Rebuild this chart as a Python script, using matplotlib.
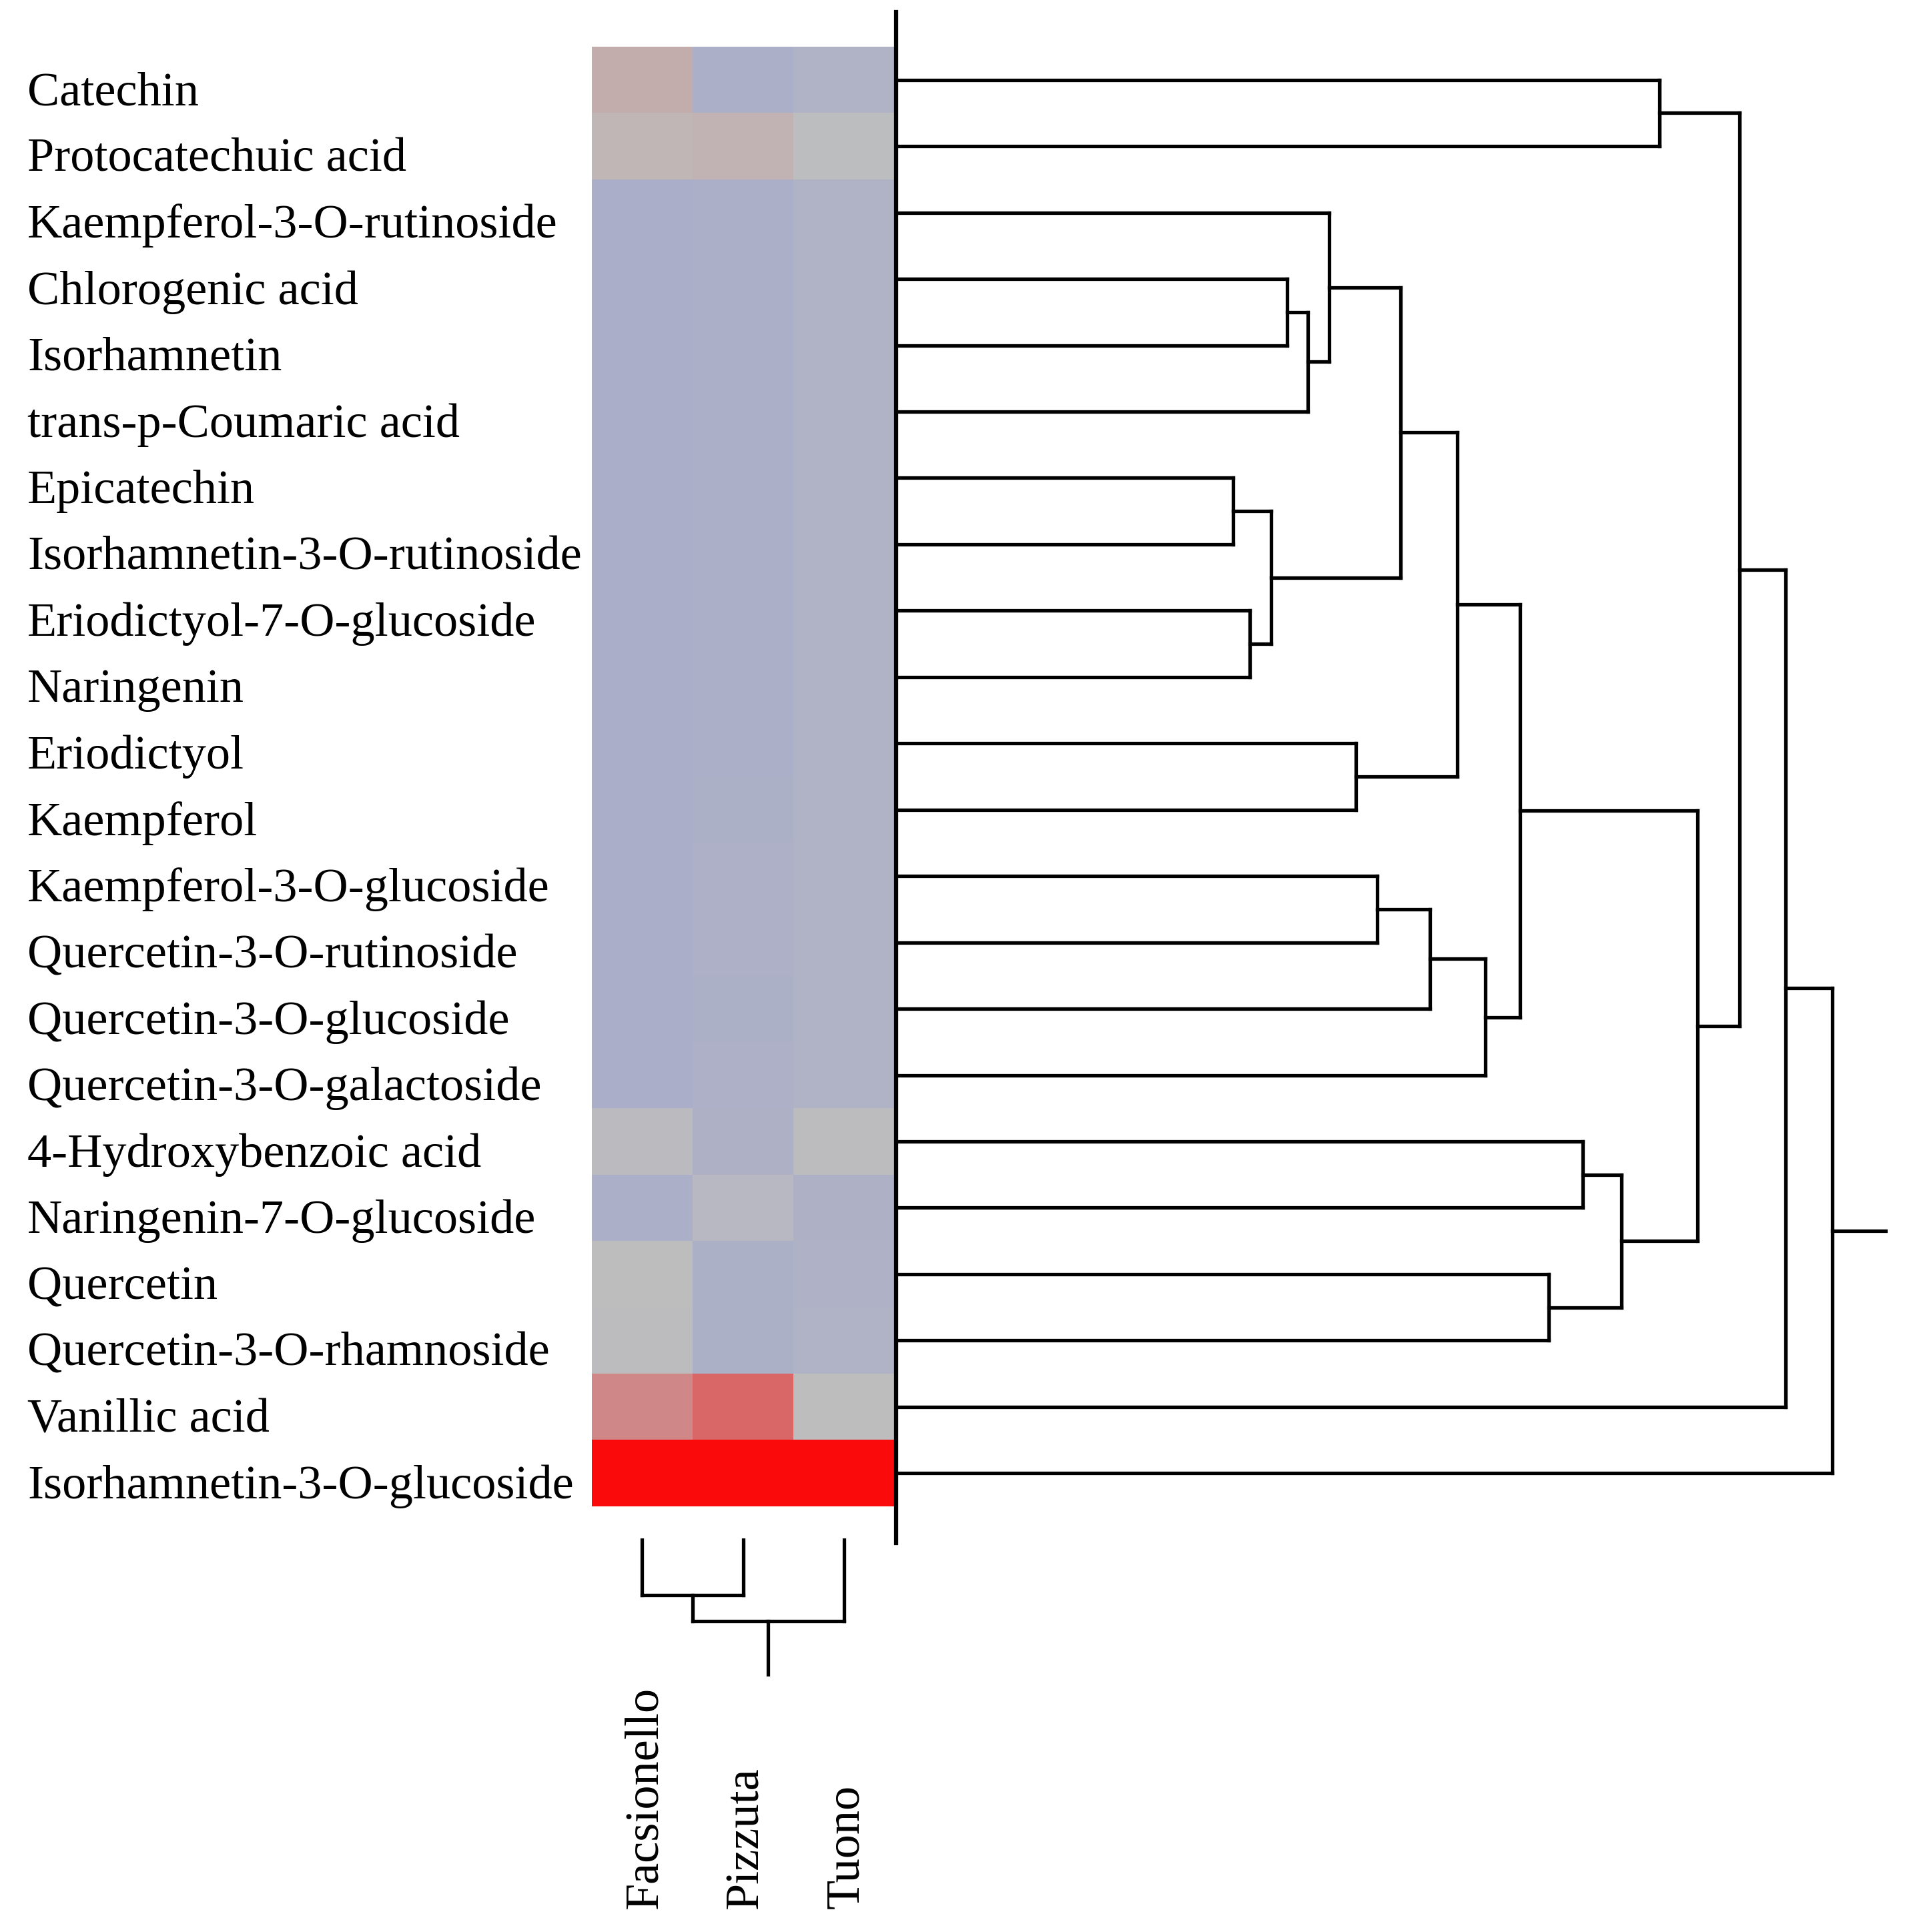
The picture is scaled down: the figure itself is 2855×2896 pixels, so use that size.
import numpy as np
import matplotlib
matplotlib.use('Agg')
import matplotlib.pyplot as plt
import matplotlib.transforms as mtrans
from matplotlib.colors import LinearSegmentedColormap

compounds = ['Catechin', 'Protocatechuic acid', 'Kaempferol-3-O-rutinoside',
             'Chlorogenic acid', 'Isorhamnetin', 'trans-p-Coumaric acid',
             'Epicatechin', 'Isorhamnetin-3-O-rutinoside', 'Eriodictyol-7-O-glucoside',
             'Naringenin', 'Eriodictyol', 'Kaempferol', 'Kaempferol-3-O-glucoside',
             'Quercetin-3-O-rutinoside', 'Quercetin-3-O-glucoside',
             'Quercetin-3-O-galactoside', '4-Hydroxybenzoic acid',
             'Naringenin-7-O-glucoside', 'Quercetin', 'Quercetin-3-O-rhamnoside',
             'Vanillic acid', 'Isorhamnetin-3-O-glucoside']
cultivars = ['Facsionello', 'Pizzuta', 'Tuono']

# scaled content, columns = cultivars
values = np.array([
    [0.55, 0.08, 0.17],
    [0.52, 0.53, 0.47],
    [0.04, 0.08, 0.19],
    [0.04, 0.08, 0.18],
    [0.04, 0.08, 0.18],
    [0.04, 0.08, 0.18],
    [0.04, 0.08, 0.18],
    [0.04, 0.08, 0.18],
    [0.04, 0.08, 0.18],
    [0.04, 0.08, 0.18],
    [0.04, 0.08, 0.18],
    [0.04, 0.09, 0.18],
    [0.04, 0.10, 0.18],
    [0.04, 0.11, 0.18],
    [0.04, 0.09, 0.18],
    [0.05, 0.10, 0.19],
    [0.44, 0.13, 0.46],
    [0.07, 0.35, 0.13],
    [0.50, 0.09, 0.16],
    [0.46, 0.09, 0.18],
    [0.65, 0.74, 0.49],
    [1.00, 1.00, 1.00],
])

# row clustering: (node a, node b, height); leaves 0..21, new nodes from 22
row_merges = [
    (0, 1, 619), (3, 4, 317), (23, 5, 334), (2, 24, 351),
    (6, 7, 273), (8, 9, 287), (26, 27, 304), (25, 28, 409),
    (10, 11, 373), (29, 30, 455), (12, 13, 390), (32, 14, 433),
    (33, 15, 478), (31, 34, 506), (16, 17, 557), (18, 19, 529),
    (36, 37, 588), (35, 38, 650), (22, 39, 684), (40, 20, 721),
    (41, 21, 759),
]
row_tail = 804

# column clustering
col_merges = [(0, 1, 46), (3, 2, 67)]
col_tail = 112


def draw_dendro(ax, merges, n, tail, horizontal, lw=3.8):
    pos = {i: float(i) for i in range(n)}
    hgt = {i: 0.0 for i in range(n)}
    k = n
    for a, b, h in merges:
        segs = [(pos[a], hgt[a], pos[a], h), (pos[b], hgt[b], pos[b], h),
                (pos[a], h, pos[b], h)]
        for p0, h0, p1, h1 in segs:
            if horizontal:
                ax.plot([h0, h1], [p0, p1], color='k', lw=lw, solid_capstyle='projecting')
            else:
                ax.plot([p0, p1], [h0, h1], color='k', lw=lw, solid_capstyle='projecting')
        pos[k] = (pos[a] + pos[b]) / 2
        hgt[k] = h
        k += 1
    root = k - 1
    if horizontal:
        ax.plot([hgt[root], tail], [pos[root], pos[root]], color='k', lw=lw)
    else:
        ax.plot([pos[root], pos[root]], [hgt[root], tail], color='k', lw=lw)


plt.rcParams['font.family'] = ['Liberation Serif', 'DejaVu Serif']
W, H = 2855, 2896
fig = plt.figure(figsize=(W / 100, H / 100), dpi=100)

# heatmap
hx0, hx1, hy0, hy1 = 887, 1340, 70, 2258
ax = fig.add_axes([hx0 / W, 1 - hy1 / H, (hx1 - hx0) / W, (hy1 - hy0) / H])
cmap = LinearSegmentedColormap.from_list('bgr', [(0, '#a9adca'), (0.5, '#bebebe'), (1, '#fa0a0a')])
ax.imshow(values, cmap=cmap, vmin=0, vmax=1, aspect='auto', interpolation='nearest')
ax.set_xlim(-0.5, 2.5)
ax.set_ylim(21.5, -0.5)
ax.axis('off')

tr = mtrans.blended_transform_factory(fig.transFigure, ax.transData)
for i, name in enumerate(compounds):
    ax.text(41 / W, i + 0.2, name, transform=tr, ha='left', va='center', fontsize=52)

tc = mtrans.blended_transform_factory(ax.transData, fig.transFigure)
for j, name in enumerate(cultivars):
    ax.text(j + 0.03, 1 - 2861 / H, name, transform=tc, rotation=90,
            ha='center', va='bottom', fontsize=52)

# row dendrogram
dx0, dx1 = 1343, 2829
axr = fig.add_axes([dx0 / W, 1 - hy1 / H, (dx1 - dx0) / W, (hy1 - hy0) / H])
draw_dendro(axr, row_merges, len(compounds), row_tail, horizontal=True)
axr.plot([0, 0], [-1.02, 22.05], color='k', lw=4.5, clip_on=False)
axr.set_xlim(0, row_tail)
axr.set_ylim(21.5, -0.5)
axr.axis('off')

# column dendrogram
cy0, cy1 = 2306, 2513
axc = fig.add_axes([hx0 / W, 1 - cy1 / H, (hx1 - hx0) / W, (cy1 - cy0) / H])
draw_dendro(axc, col_merges, len(cultivars), col_tail, horizontal=False)
axc.set_xlim(-0.5, 2.5)
axc.set_ylim(col_tail, 0)
axc.axis('off')

fig.savefig('out.png', dpi=100)
